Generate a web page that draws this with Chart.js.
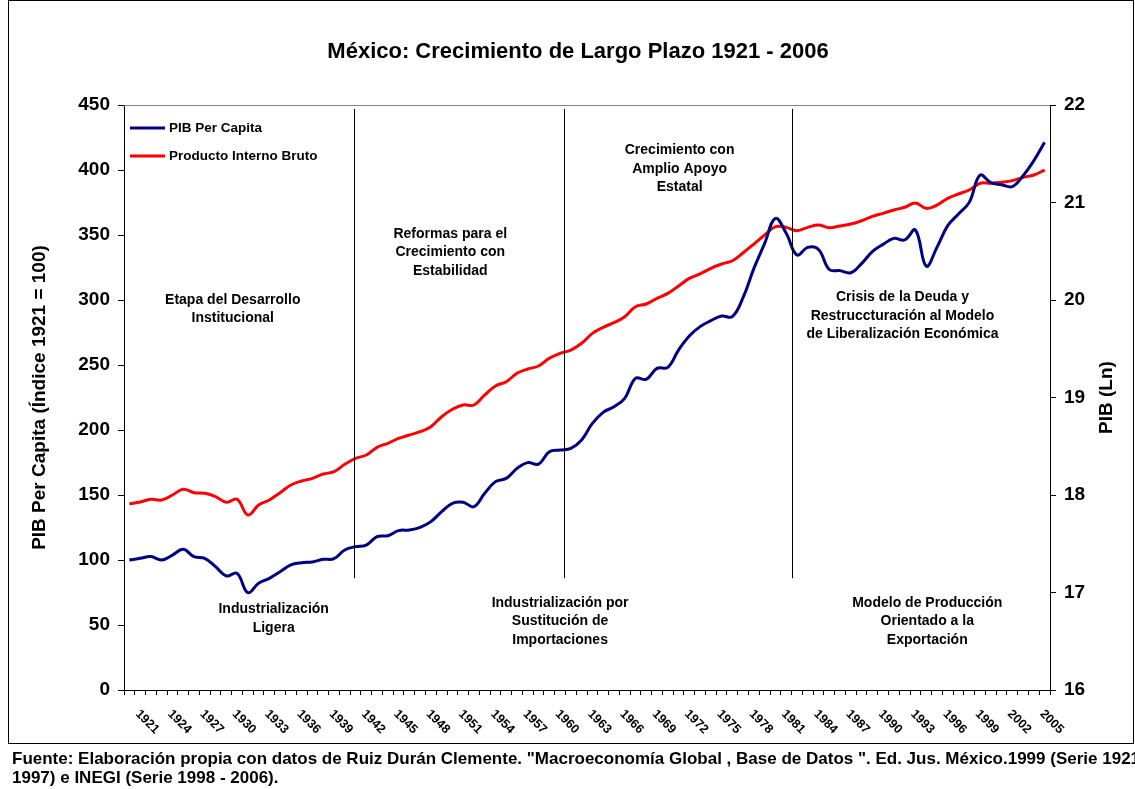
<!DOCTYPE html>
<html>
<head>
<meta charset="utf-8">
<title>México: Crecimiento de Largo Plazo 1921 - 2006</title>
<script src="https://cdn.jsdelivr.net/npm/chart.js@4.4.1/dist/chart.umd.min.js"></script>
<style>
  html, body { margin: 0; padding: 0; background: #fff; }
  #wrap { width: 1135px; height: 789px; }
</style>
</head>
<body>
<div id="wrap"><canvas id="growthChart" width="1135" height="789"></canvas></div>
<script>
// años 1921 - 2006
const years = [
    '1921', '1922', '1923', '1924', '1925', '1926', '1927', '1928', '1929', '1930',
    '1931', '1932', '1933', '1934', '1935', '1936', '1937', '1938', '1939', '1940',
    '1941', '1942', '1943', '1944', '1945', '1946', '1947', '1948', '1949', '1950',
    '1951', '1952', '1953', '1954', '1955', '1956', '1957', '1958', '1959', '1960',
    '1961', '1962', '1963', '1964', '1965', '1966', '1967', '1968', '1969', '1970',
    '1971', '1972', '1973', '1974', '1975', '1976', '1977', '1978', '1979', '1980',
    '1981', '1982', '1983', '1984', '1985', '1986', '1987', '1988', '1989', '1990',
    '1991', '1992', '1993', '1994', '1995', '1996', '1997', '1998', '1999', '2000',
    '2001', '2002', '2003', '2004', '2005', '2006'
];

// PIB per capita, índice 1921 = 100 (eje izquierdo)
const pibPerCapita = [
    100.0, 101.3, 102.6, 100.0, 103.8, 108.2, 102.6, 101.3, 94.9, 87.7,
    89.7, 74.9, 82.1, 85.9, 91.0, 96.2, 97.9, 98.5, 100.5, 101.0,
    107.7, 110.3, 111.5, 117.9, 118.7, 122.6, 123.1, 125.1, 129.5, 137.2,
    143.6, 144.4, 141.0, 151.3, 160.3, 162.8, 170.5, 174.9, 173.8, 183.3,
    184.6, 185.9, 192.3, 205.1, 213.6, 217.9, 224.4, 239.8, 239.0, 247.4,
    248.2, 261.5, 272.3, 279.5, 284.1, 287.7, 287.2, 302.0, 324.3, 343.6,
    362.8, 351.3, 334.6, 340.5, 338.9, 323.5, 322.6, 321.0, 328.0, 337.2,
    342.8, 347.4, 346.2, 353.8, 326.0, 340.5, 357.2, 366.2, 375.1, 396.0,
    390.3, 388.7, 387.2, 395.6, 407.2, 421.3
];

// Producto Interno Bruto en logaritmo natural (eje derecho)
const pibLn = [
    17.908, 17.928, 17.956, 17.949, 18.000, 18.058, 18.024, 18.017, 17.983, 17.925,
    17.956, 17.795, 17.897, 17.949, 18.024, 18.103, 18.144, 18.171, 18.215, 18.239,
    18.315, 18.376, 18.410, 18.489, 18.530, 18.581, 18.615, 18.649, 18.701, 18.803,
    18.879, 18.923, 18.923, 19.026, 19.118, 19.162, 19.248, 19.292, 19.323, 19.402,
    19.453, 19.487, 19.556, 19.658, 19.720, 19.767, 19.829, 19.931, 19.959, 20.017,
    20.068, 20.144, 20.222, 20.267, 20.325, 20.369, 20.403, 20.485, 20.574, 20.667,
    20.752, 20.745, 20.711, 20.745, 20.769, 20.742, 20.759, 20.779, 20.813, 20.858,
    20.889, 20.923, 20.951, 20.995, 20.940, 20.974, 21.043, 21.087, 21.128, 21.197,
    21.197, 21.207, 21.224, 21.258, 21.282, 21.333
];

// etiquetas del eje X (cada 3 años)
const xTickLabels = [
    '1921', '1924', '1927', '1930', '1933', '1936', '1939', '1942', '1945', '1948',
    '1951', '1954', '1957', '1960', '1963', '1966', '1969', '1972', '1975', '1978',
    '1981', '1984', '1987', '1990', '1993', '1996', '1999', '2002', '2005'
];

// marcas de los ejes
const leftTicks = [0, 50, 100, 150, 200, 250, 300, 350, 400, 450];
const rightTicks = [16, 17, 18, 19, 20, 21, 22];

// cortes entre etapas (en años)
const periodBreaks = [1941.86, 1961.36, 1982.53];

const TEXT = '#000';
const FONT = 'Arial, "Liberation Sans", sans-serif';

// textos de las etapas: posición en (año, valor del eje izquierdo)
const notes = [
    { year: 1930.6, value: 300, lines: ['Etapa del Desarrollo', 'Institucional'] },
    { year: 1934.4, value: 62, lines: ['Industrialización', 'Ligera'] },
    { year: 1950.8, value: 351, lines: ['Reformas para el', 'Crecimiento con', 'Estabilidad'] },
    { year: 1961.0, value: 67, lines: ['Industrialización por', 'Sustitución de', 'Importaciones'] },
    { year: 1972.1, value: 415, lines: ['Crecimiento con', 'Amplio Apoyo', 'Estatal'] },
    { year: 1992.8, value: 302, lines: ['Crisis de la Deuda y', 'Restruccturación al Modelo', 'de Liberalización Económica'] },
    { year: 1995.1, value: 67, lines: ['Modelo de Producción', 'Orientado a la', 'Exportación'] }
];

const decor = {
    id: 'decor',
    beforeDraw(chart) {
        const { ctx, width, height } = chart;
        ctx.save();
        ctx.fillStyle = '#fff';
        ctx.fillRect(0, 0, width, height);
        ctx.restore();
    },
    afterDatasetsDraw(chart) {
        const { ctx, chartArea: a, scales: { x, y } } = chart;
        ctx.save();
        // borde superior del área de trazado
        ctx.strokeStyle = '#808080';
        ctx.lineWidth = 1;
        ctx.beginPath();
        ctx.moveTo(a.left, a.top + 0.5);
        ctx.lineTo(a.right, a.top + 0.5);
        ctx.stroke();

        // líneas verticales entre etapas
        ctx.strokeStyle = '#000';
        periodBreaks.forEach(yr => {
            const px = Math.round(x.getPixelForValue(yr - 1921)) + 0.5;
            ctx.beginPath();
            ctx.moveTo(px, y.getPixelForValue(447));
            ctx.lineTo(px, y.getPixelForValue(86));
            ctx.stroke();
        });
        ctx.restore();
    },
    afterDraw(chart) {
        const { ctx, chartArea: a, scales: { x, y } } = chart;
        ctx.save();
        ctx.fillStyle = TEXT;

        // título
        ctx.font = 'bold 22px ' + FONT;
        ctx.textAlign = 'center';
        ctx.textBaseline = 'middle';
        ctx.fillText('México: Crecimiento de Largo Plazo 1921 - 2006', 578, 52);

        // títulos de ejes
        ctx.font = 'bold 19px ' + FONT;
        ctx.save();
        ctx.translate(40, (a.top + a.bottom) / 2);
        ctx.rotate(-Math.PI / 2);
        ctx.fillText('PIB Per Capita (Índice 1921 = 100)', 0, 0);
        ctx.restore();
        ctx.save();
        ctx.translate(1107, (a.top + a.bottom) / 2);
        ctx.rotate(-Math.PI / 2);
        ctx.fillText('PIB (Ln)', 0, 0);
        ctx.restore();

        // etiquetas del eje X, giradas 45°
        ctx.font = 'bold 12.5px ' + FONT;
        ctx.textAlign = 'left';
        ctx.textBaseline = 'middle';
        xTickLabels.forEach(lbl => {
            const px = x.getPixelForValue(years.indexOf(lbl));
            ctx.save();
            ctx.translate(px + 8, a.bottom + 22);
            ctx.rotate(Math.PI / 4);
            ctx.fillText(lbl, 0, 0);
            ctx.restore();
        });

        // leyenda
        ctx.font = 'bold 13.5px ' + FONT;
        chart.data.datasets.forEach((ds, k) => {
            const ly = a.top + 23 + k * 28;
            ctx.strokeStyle = ds.borderColor;
            ctx.lineWidth = 3;
            ctx.beginPath();
            ctx.moveTo(a.left + 6, ly);
            ctx.lineTo(a.left + 41, ly);
            ctx.stroke();
            ctx.fillText(ds.label, a.left + 45, ly);
        });

        // textos de las etapas
        ctx.font = 'bold 14px ' + FONT;
        ctx.textAlign = 'center';
        notes.forEach(n => {
            const cx = x.getPixelForValue(n.year - 1921);
            const cy = y.getPixelForValue(n.value);
            n.lines.forEach((t, k) => ctx.fillText(t, cx, cy + k * 18.5));
        });

        // fuente
        ctx.font = 'bold 17px ' + FONT;
        ctx.textAlign = 'left';
        ctx.fillText('Fuente: Elaboración propia con datos de Ruiz Durán Clemente. "Macroeconomía Global , Base de Datos ". Ed. Jus. México.1999 (Serie 1921 -', 12, 759);
        ctx.fillText('1997) e INEGI (Serie 1998 - 2006).', 12, 778);

        // marco del gráfico
        ctx.strokeStyle = '#000';
        ctx.lineWidth = 1;
        ctx.strokeRect(8.5, 0.5, 1125, 743);
        ctx.restore();
    }
};

(() => {
    const canvas = document.getElementById('growthChart');
    if (!canvas || typeof Chart === 'undefined') return;

    const tickFont = { family: FONT, size: 19, weight: 'bold' };

    new Chart(canvas.getContext('2d'), {
        type: 'line',
        data: {
            labels: years,
            datasets: [{
                label: 'PIB Per Capita',
                data: pibPerCapita,
                yAxisID: 'y',
                borderColor: '#000080',
                borderWidth: 3,
                pointRadius: 0,
                tension: 0.4,
                fill: false
            }, {
                label: 'Producto Interno Bruto',
                data: pibLn,
                yAxisID: 'y1',
                borderColor: '#FF0000',
                borderWidth: 3,
                pointRadius: 0,
                tension: 0.4,
                fill: false
            }]
        },
        options: {
            responsive: false,
            animation: false,
            devicePixelRatio: 1,
            layout: { padding: { top: 105, right: 0, bottom: 0, left: 0 } },
            plugins: {
                legend: { display: false },
                title: { display: false },
                tooltip: { enabled: false }
            },
            scales: {
                x: {
                    type: 'category',
                    offset: true,
                    ticks: { display: false },
                    grid: { display: true, drawOnChartArea: false, drawTicks: true, tickLength: 5, tickColor: '#000', offset: true },
                    border: { display: true, color: '#000', width: 1 },
                    afterFit(s) { s.height = 99; }
                },
                y: {
                    position: 'left',
                    min: leftTicks[0],
                    max: leftTicks[leftTicks.length - 1],
                    afterBuildTicks(s) { s.ticks = leftTicks.map(v => ({ value: v })); },
                    ticks: { color: TEXT, font: tickFont, padding: 8 },
                    grid: { display: true, drawOnChartArea: false, tickLength: 6, tickColor: '#000' },
                    border: { display: true, color: '#000', width: 1 },
                    afterFit(s) { s.width = 124; }
                },
                y1: {
                    position: 'right',
                    min: rightTicks[0],
                    max: rightTicks[rightTicks.length - 1],
                    afterBuildTicks(s) { s.ticks = rightTicks.map(v => ({ value: v })); },
                    ticks: { color: TEXT, font: tickFont, padding: 8 },
                    grid: { display: true, drawOnChartArea: false, tickLength: 6, tickColor: '#000' },
                    border: { display: true, color: '#000', width: 1 },
                    afterFit(s) { s.width = 85; }
                }
            }
        },
        plugins: [decor]
    });
})();
</script>
</body>
</html>
